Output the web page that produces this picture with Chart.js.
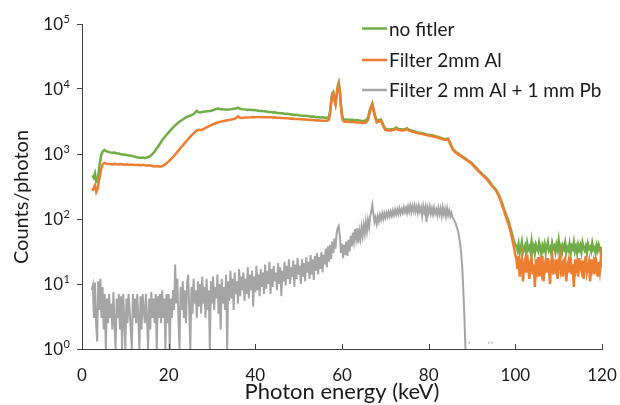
<!DOCTYPE html>
<html>
<head>
<meta charset="utf-8">
<script src="https://cdn.jsdelivr.net/npm/chart.js@4.4.1/dist/chart.umd.min.js"></script>
<style>
  html, body { margin: 0; padding: 0; background: #fff; }
  #wrap { width: 620px; height: 405px; }
</style>
</head>
<body>
<div id="wrap"><canvas id="grafico-espectro"></canvas></div>
<script>
const seriesLabels = ['no fitler', 'Filter 2mm Al', 'Filter 2 mm Al + 1 mm Pb'];
const xTicks = [0, 20, 40, 60, 80, 100, 120];
const yTicks = [1, 10, 100, 1000, 10000, 100000];
const yTickExp = ['0', '1', '2', '3', '4', '5'];

// photon energy (keV) for the two top curves
const energy = [
  2.4, 2.7, 3.0, 3.3, 3.6, 4.0, 4.4, 4.8, 5.2, 5.6, 6.0,
  6.5, 7, 7.5, 8, 8.5, 9, 9.5, 10, 10.5, 11,
  11.5, 12, 12.5, 13, 13.5, 14, 14.5, 15, 15.5, 16,
  16.5, 17, 17.5, 18, 18.5, 19, 19.5, 20, 20.5, 21,
  21.5, 22, 22.5, 23, 23.5, 24, 24.5, 25, 25.5, 26,
  26.5, 27, 27.5, 28, 28.5, 29, 29.5, 30, 30.5, 31,
  31.5, 32, 32.5, 33, 33.5, 34, 34.5, 35, 35.5, 36,
  36.5, 37, 37.5, 38, 38.5, 39, 39.5, 40, 40.5, 41,
  41.5, 42, 42.5, 43, 43.5, 44, 44.5, 45, 45.5, 46,
  46.5, 47, 47.5, 48, 48.5, 49, 49.5, 50, 50.5, 51,
  51.5, 52, 52.5, 53, 53.5, 54, 54.5, 55, 55.5, 56,
  56.25, 56.5, 56.75, 57, 57.25, 57.5, 57.75, 58, 58.25, 58.5, 58.75,
  59, 59.25, 59.5, 59.75, 60, 60.25, 60.5, 60.75, 61, 61.5, 62,
  62.5, 63, 63.5, 64, 64.5, 65, 65.5, 66, 66.5, 67,
  67.5, 68, 68.5, 69, 69.5, 70, 70.5, 71, 71.5, 72,
  72.5, 73, 73.5, 74, 74.5, 75, 75.5, 76, 76.5, 77,
  77.5, 78, 78.5, 79, 79.5, 80, 80.5, 81, 81.5, 82,
  82.5, 83, 83.5, 84, 84.5, 85, 85.5, 86, 86.5, 87,
  87.5, 88, 88.5, 89, 89.5, 90, 90.5, 91, 91.5, 92,
  92.5, 93, 93.5, 94, 94.5, 95, 95.5, 96, 96.5, 97,
  97.5, 98, 98.5, 99, 99.5, 100,
  100.25, 100.5, 100.75, 101, 101.25, 101.5, 101.75, 102,
  102.25, 102.5, 102.75, 103, 103.25, 103.5, 103.75, 104,
  104.25, 104.5, 104.75, 105, 105.25, 105.5, 105.75, 106,
  106.25, 106.5, 106.75, 107, 107.25, 107.5, 107.75, 108,
  108.25, 108.5, 108.75, 109, 109.25, 109.5, 109.75, 110,
  110.25, 110.5, 110.75, 111, 111.25, 111.5, 111.75, 112,
  112.25, 112.5, 112.75, 113, 113.25, 113.5, 113.75, 114,
  114.25, 114.5, 114.75, 115, 115.25, 115.5, 115.75, 116,
  116.25, 116.5, 116.75, 117, 117.25, 117.5, 117.75, 118,
  118.25, 118.5, 118.75, 119, 119.25, 119.5, 119.75, 120
];

const noFilter = [
  470, 430, 500, 370, 380, 640, 950, 1100, 1150, 1110, 1080,
  1060, 1045, 1050, 1020, 1015, 990, 985, 975, 955, 950,
  935, 915, 900, 880, 870, 880, 865, 885, 905, 960,
  1040, 1150, 1280, 1450, 1630, 1800, 1980, 2150, 2350, 2550,
  2750, 2950, 3150, 3300, 3480, 3650, 3780, 3900, 4020, 4250,
  4600, 4350, 4400, 4460, 4490, 4560, 4590, 4660, 4800, 4950,
  5000, 4890, 4860, 4840, 4810, 4860, 4890, 4960, 5010, 5150,
  4950, 4890, 4860, 4790, 4810, 4740, 4760, 4690, 4660, 4590,
  4620, 4530, 4510, 4440, 4410, 4340, 4370, 4290, 4260, 4240,
  4210, 4140, 4160, 4090, 4060, 3990, 4010, 3940, 3910, 3890,
  3860, 3840, 3810, 3740, 3760, 3690, 3710, 3640, 3660, 3600,
  3600, 3620, 3650, 3750, 4600, 6500, 8600, 9000, 7000, 6000, 8200,
  11000, 12500, 9500, 5800, 4000, 3500, 3400, 3380, 3400, 3380, 3350,
  3350, 3320, 3300, 3280, 3250, 3230, 3300, 3600, 5000, 6000,
  4200, 3250, 3350, 3400, 2800, 2450, 2400, 2380, 2400, 2420,
  2550, 2420, 2400, 2380, 2400, 2500, 2350, 2300, 2250, 2200,
  2150, 2120, 2080, 2050, 2000, 1980, 1950, 1920, 1880, 1850,
  1800, 1750, 1720, 1700, 1720, 1450, 1230, 1110, 1050, 1000,
  950, 900, 850, 800, 760, 720, 660, 610, 560, 520,
  480, 450, 420, 380, 340, 310, 285, 250, 210, 170,
  135, 110, 90, 68, 50, 40,
  38, 33, 41, 30, 36, 44, 31, 35,
  39, 29, 42, 34, 37, 31, 45, 33,
  38, 30, 40, 35, 32, 43, 36, 29,
  39, 34, 41, 31, 37, 44, 33, 36,
  30, 42, 35, 38, 31, 40, 34, 46,
  32, 37, 30, 39, 35, 43, 31, 36,
  33, 41, 29, 38, 35, 44, 32, 37,
  30, 40, 34, 39, 31, 43, 36, 33,
  38, 30, 41, 35, 37, 32, 42, 34,
  36, 30, 39, 33, 40, 35, 29, 37
];

const filterAl = [
  270, 300, 330, 260, 290, 420, 580, 700, 730, 710, 700,
  700, 690, 705, 695, 688, 702, 690, 684, 692, 680,
  690, 678, 676, 682, 668, 680, 671, 664, 672, 660,
  650, 644, 652, 640, 650, 680, 720, 770, 830, 900,
  980, 1080, 1180, 1300, 1420, 1550, 1700, 1850, 2000, 2150,
  2300, 2350, 2330, 2420, 2520, 2620, 2720, 2820, 2920, 3000,
  3080, 3150, 3200, 3250, 3300, 3350, 3400, 3450, 3550, 3800,
  3600, 3590, 3630, 3640, 3660, 3670, 3710, 3690, 3710, 3720,
  3690, 3710, 3690, 3680, 3690, 3640, 3660, 3610, 3610, 3590,
  3580, 3540, 3560, 3490, 3510, 3470, 3460, 3440, 3430, 3390,
  3410, 3370, 3360, 3340, 3330, 3290, 3310, 3270, 3260, 3240,
  3250, 3260, 3300, 3400, 4200, 6000, 8000, 8500, 6600, 5700, 7700,
  10400, 11800, 9000, 5400, 3700, 3250, 3150, 3130, 3150, 3120, 3100,
  3100, 3080, 3060, 3050, 3020, 3000, 3050, 3350, 4700, 5700,
  4000, 3050, 3150, 3250, 2700, 2350, 2300, 2300, 2320, 2350,
  2450, 2350, 2320, 2300, 2330, 2420, 2280, 2230, 2180, 2140,
  2090, 2060, 2020, 1990, 1950, 1920, 1890, 1860, 1830, 1800,
  1750, 1700, 1670, 1650, 1680, 1410, 1190, 1080, 1020, 970,
  920, 870, 820, 780, 740, 700, 640, 590, 545, 505,
  465, 435, 405, 365, 330, 300, 275, 240, 200, 160,
  128, 100, 80, 60, 42, 28,
  24, 17, 27, 13, 21, 26, 11, 19,
  23, 15, 28, 18, 12, 22, 25, 14,
  20, 9, 24, 17, 26, 13, 21, 16,
  27, 11, 19, 23, 15, 25, 18, 10,
  22, 26, 14, 20, 17, 24, 12, 21,
  27, 16, 19, 13, 23, 25, 11, 18,
  22, 15, 26, 14, 20, 9, 24, 17,
  21, 13, 25, 19, 16, 23, 12, 20,
  27, 15, 18, 22, 11, 24, 17, 21,
  14, 26, 19, 13, 22, 16, 25, 18
];

// Al + Pb curve: channels of 0.25 keV starting at 2.25 keV
const pbFirstEnergy = 2.25;
const pbBinWidth = 0.25;
const filterAlPb = [
  8, 9.5, 3, 10.5, 2.5, 1.3, 11, 4, 12, 3, 9, 2, 7, 1, 6, 2.5, 7, 3, 5, 2,
  7.5, 2.5, 1, 6, 3, 7, 2, 6.5, 1, 7, 3, 1, 6, 2.5, 7, 4, 2, 1, 7, 3,
  6, 2.5, 7, 3, 1, 6.5, 2, 7, 4, 2.5, 7, 3, 1, 6, 2, 7.5, 3, 6, 2.5, 7,
  1, 6.5, 3, 7, 2.5, 8, 3, 6, 1, 7, 2.5, 7, 1, 6, 3, 8, 4, 20, 5, 12,
  3, 1, 9, 4, 11, 3, 8, 2.5, 10, 14, 4, 1, 9, 3.5, 12, 5, 8, 3, 11, 4.5,
  10, 3.5, 13, 5, 9, 3, 12, 4, 8, 1, 11, 5, 13, 4, 9, 6, 14, 3.5, 10, 2,
  12, 5, 9, 4, 14, 1, 11, 5.5, 16, 6, 12, 4, 15, 7, 11, 5, 17, 6.5, 13, 8,
  15, 5.5, 12, 7, 18, 6, 14, 8, 16, 4.5, 13, 7.5, 19, 8, 14, 6.5, 17, 9, 15, 7,
  20, 8.5, 16, 10, 22, 7, 17, 9, 19, 11, 15, 8, 21, 10, 18, 6.5, 16, 11, 22, 9.5,
  19, 12, 24, 10, 18, 13, 23, 9, 20, 12, 25, 14, 19, 10, 24, 13, 21, 11, 26, 15,
  22, 12, 28, 14, 24, 11.5, 27, 16, 30, 14, 26, 17, 31, 15, 28, 20, 35, 18, 38, 22,
  40, 24, 45, 30, 50, 35, 60, 72, 78, 55, 30, 42, 25, 40, 28, 45, 27, 48, 32, 55,
  38, 62, 45, 70, 50, 72, 42, 65, 50, 75, 55, 80, 60, 90, 65, 95, 75, 110, 130, 165,
  120, 90, 105, 85, 110, 92, 115, 98, 120, 100, 122, 105, 125, 108, 128, 110, 130, 112, 135, 115,
  138, 118, 140, 120, 145, 122, 142, 125, 150, 128, 148, 124, 155, 130, 160, 128, 158, 132, 162, 130,
  155, 125, 160, 130, 150, 112, 158, 128, 152, 90, 148, 125, 155, 120, 145, 118, 150, 122, 140, 115,
  148, 120, 145, 112, 150, 118, 142, 110, 145, 115, 135, 110, 125, 105, 100, 92, 85, 75, 66, 55,
  42, 30, 18, 8, 3, 1, null, null, 1.25, 1.25, null,
  null, null, null, null, null, null, null, null, null, null, null, null, null, null, null,
  1.25, 1.25, null, 1.25, 1.25
];

const cores = ['#70ad47', '#ed7d31', '#a5a5a5'];
const corEixo = '#404040';
const corTexto = '#1a1a1a';
const fonte = 'Lato, "Open Sans", sans-serif';

function pares(xs, ys) {
  return ys.map(function (v, i) { return { x: xs[i], y: v }; });
}
const energyPb = filterAlPb.map(function (v, i) { return pbFirstEnergy + i * pbBinWidth; });

const extras = {
  id: 'extras',
  afterDraw(chart) {
    const { ctx, chartArea, scales } = chart;
    const sx = scales.x, sy = scales.y;
    ctx.save();

    // x ticks pointing inwards
    ctx.strokeStyle = corEixo;
    ctx.lineWidth = 1;
    xTicks.forEach(function (v) {
      if (v === 0) return;
      const px = Math.round(sx.getPixelForValue(v)) + 0.5;
      ctx.beginPath();
      ctx.moveTo(px, chartArea.bottom);
      ctx.lineTo(px, chartArea.bottom - 5);
      ctx.stroke();
    });

    // y tick labels 10^n
    ctx.fillStyle = corTexto;
    yTicks.forEach(function (v, i) {
      const py = sy.getPixelForValue(v);
      ctx.font = '17px ' + fonte;
      ctx.textAlign = 'right';
      ctx.textBaseline = 'middle';
      ctx.fillText('10', 63, py + 1);
      ctx.font = '11px ' + fonte;
      ctx.textAlign = 'left';
      ctx.textBaseline = 'alphabetic';
      ctx.fillText(yTickExp[i], 63.5, py - 1);
    });

    // y title
    ctx.save();
    ctx.translate(28, 197);
    ctx.rotate(-Math.PI / 2);
    ctx.font = '20px ' + fonte;
    ctx.textAlign = 'center';
    ctx.textBaseline = 'alphabetic';
    ctx.fillText('Counts/photon', 0, 0);
    ctx.restore();

    // legend
    const linhas = [28.5, 60, 90];
    ctx.font = '19px ' + fonte;
    ctx.textAlign = 'left';
    ctx.textBaseline = 'middle';
    seriesLabels.forEach(function (txt, i) {
      ctx.strokeStyle = cores[i];
      ctx.lineWidth = 2.5;
      ctx.beginPath();
      ctx.moveTo(362, linhas[i]);
      ctx.lineTo(387, linhas[i]);
      ctx.stroke();
      ctx.fillStyle = corTexto;
      ctx.fillText(txt, 389, linhas[i] + 1);
    });
    ctx.restore();
  }
};

new Chart(document.getElementById('grafico-espectro'), {
  type: 'line',
  data: {
    datasets: [
      { label: seriesLabels[0], data: pares(energy, noFilter), borderColor: cores[0], borderWidth: 2.5, order: 1 },
      { label: seriesLabels[1], data: pares(energy, filterAl), borderColor: cores[1], borderWidth: 2.5, order: 0 },
      { label: seriesLabels[2], data: pares(energyPb, filterAlPb), borderColor: cores[2], borderWidth: 2, order: 2 }
    ]
  },
  options: {
    responsive: true,
    maintainAspectRatio: false,
    animation: false,
    spanGaps: false,
    elements: { point: { radius: 0 }, line: { tension: 0 } },
    layout: { padding: { top: 24, right: 18, left: 0, bottom: 0 } },
    plugins: { legend: { display: false }, tooltip: { enabled: false } },
    scales: {
      x: {
        type: 'linear',
        min: 0,
        max: 120,
        afterBuildTicks: function (s) { s.ticks = xTicks.map(function (v) { return { value: v }; }); },
        afterFit: function (s) { s.height = 56; s.paddingRight = 0; s.paddingLeft = 0; },
        ticks: { color: corTexto, font: { family: fonte, size: 17 }, padding: 16, maxRotation: 0 },
        grid: { drawOnChartArea: false, drawTicks: false },
        border: { display: true, color: corEixo, width: 1 },
        title: { display: true, text: 'Photon energy (keV)', color: corTexto, font: { family: fonte, size: 22 }, padding: { top: 0, bottom: 0 } }
      },
      y: {
        type: 'logarithmic',
        min: 1,
        max: 100000,
        afterBuildTicks: function (s) { s.ticks = yTicks.map(function (v) { return { value: v }; }); },
        afterFit: function (s) { s.width = 82; s.paddingTop = 0; s.paddingBottom = 0; },
        ticks: { callback: function () { return ''; } },
        grid: { drawOnChartArea: false, drawTicks: true, tickLength: 5, color: corEixo },
        border: { display: true, color: corEixo, width: 1 }
      }
    }
  },
  plugins: [extras]
});
</script>
</body>
</html>
